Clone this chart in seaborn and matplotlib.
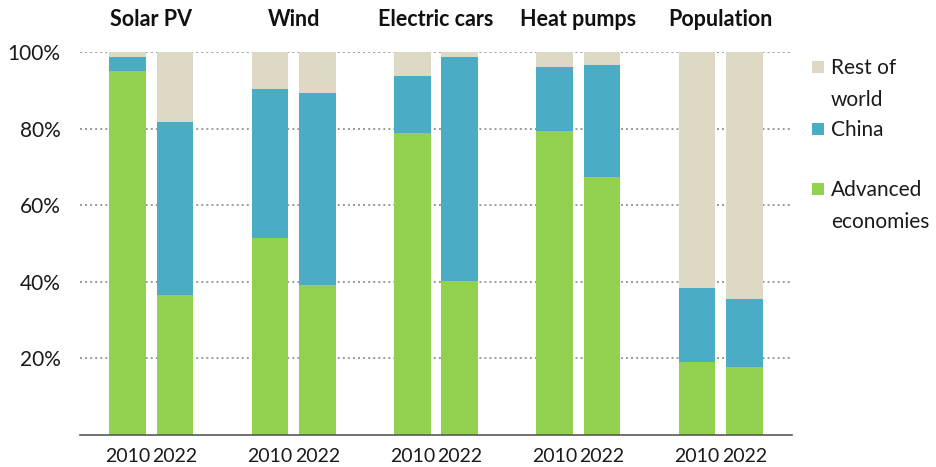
import numpy as np
import pandas as pd
import seaborn as sns
import matplotlib.pyplot as plt
from matplotlib.patches import Rectangle

# Shares (%), two bars (2010, 2022) per technology
technologies = ['Solar PV', 'Wind', 'Electric cars', 'Heat pumps', 'Population']
years = ['2010', '2022']
advanced = [95.1, 36.5, 51.4, 39.2, 78.9, 40.1, 79.4, 67.4, 19.1, 17.8]
china = [3.5, 45.2, 39.0, 50.1, 14.9, 58.6, 16.6, 29.1, 19.3, 17.7]

col_adv = '#92D050'
col_china = '#4BACC6'
col_rest = '#DDD9C4'

df = pd.DataFrame({
    'tech': np.repeat(technologies, 2),
    'year': years * len(technologies),
    'advanced': advanced,
    'china': china,
})
df['adv_china'] = df['advanced'] + df['china']
df['total'] = 100.0

sns.set_theme(style='white')
plt.rcParams['font.family'] = ['Lato', 'DejaVu Sans']

fig = plt.figure(figsize=(9.36, 4.67), dpi=100)
ax = fig.add_axes([80 / 936, 32 / 467, 712 / 936, 383 / 467])

# stacked bars: draw totals first, then overlay lower segments
for col, color in [('total', col_rest), ('adv_china', col_china), ('advanced', col_adv)]:
    sns.barplot(data=df, x='tech', y=col, hue='year', order=technologies,
                palette=[color, color], width=0.667, gap=0.23, saturation=1,
                errorbar=None, legend=False, ax=ax, zorder=2, linewidth=0)

ax.set_xlim(-0.5, len(technologies) - 0.5)
ax.set_ylim(0, 100)
ax.set_xlabel('')
ax.set_ylabel('')

# y axis: dotted grid, percent labels, no spine
ax.set_yticks([20, 40, 60, 80, 100])
ax.set_yticklabels([f'{v}%' for v in [20, 40, 60, 80, 100]], fontsize=15, color='#1a1a1a')
ax.tick_params(axis='y', length=0, pad=14)
ax.yaxis.grid(True, linestyle=(0, (1, 1.6)), color='#9a9a9a', linewidth=1.4, zorder=0)
ax.set_axisbelow(True)

# x axis: group separators as major ticks, years as minor tick labels
ax.set_xticks(np.arange(-0.5, len(technologies), 1.0))
ax.set_xticklabels([])
pos = np.array([[i - 1 / 6, i + 1 / 6] for i in range(len(technologies))]).ravel()
ax.set_xticks(pos, minor=True)
ax.set_xticklabels(years * len(technologies), minor=True, fontsize=14, color='#1a1a1a')
ax.tick_params(axis='x', which='major', length=6, width=1.2, color='#595959', direction='out')
ax.tick_params(axis='x', which='minor', length=0, pad=9)

for s in ['top', 'right', 'left']:
    ax.spines[s].set_visible(False)
ax.spines['bottom'].set_color('#595959')
ax.spines['bottom'].set_linewidth(1.2)

# group titles
for i, t in enumerate(technologies):
    ax.text(i, 108.4, t, ha='center', va='center', fontsize=15.5,
            fontweight='bold', color='#111111', clip_on=False)

# legend (manual, squares aligned with first text line)
legend_items = [('Rest of\nworld', col_rest, 67), ('China', col_china, 129),
                ('Advanced\neconomies', col_adv, 189)]
for label, color, yc in legend_items:
    fig.add_artist(Rectangle((812 / 936, 1 - (yc + 6) / 467), 12 / 936, 12 / 467,
                             transform=fig.transFigure, facecolor=color,
                             edgecolor='none'))
    fig.text(831 / 936, 1 - (yc - 9) / 467, label, ha='left', va='top',
             fontsize=15, color='#1a1a1a', linespacing=1.72)

fig.savefig('out.png', dpi=100)
